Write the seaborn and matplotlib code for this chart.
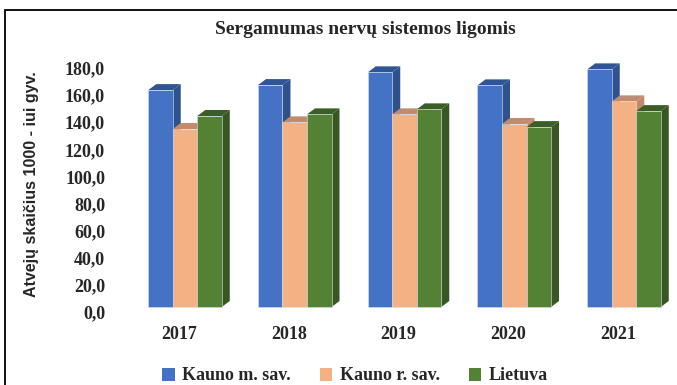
import numpy as np
import pandas as pd
import seaborn as sns
import matplotlib.pyplot as plt
from matplotlib.colors import to_rgb
from matplotlib.patches import Polygon, Rectangle
from matplotlib.transforms import ScaledTranslation

# --- data -------------------------------------------------------------
years = ['2017', '2018', '2019', '2020', '2021']
series = ['Kauno m. sav.', 'Kauno r. sav.', 'Lietuva']
kauno_m = [160.0, 163.7, 173.1, 163.5, 175.3]
kauno_r = [131.3, 136.2, 142.1, 135.0, 151.7]
lietuva = [140.9, 142.1, 145.8, 132.7, 144.5]
y_ticks = [0, 20, 40, 60, 80, 100, 120, 140, 160, 180]

title = 'Sergamumas nervų sistemos ligomis'
y_title = 'Atvejų skaičius 1000 - iui gyv.'

# --- styling ------------------------------------------------------------
front_colors = ['#4472C4', '#F4B183', '#548235']
side_colors = ['#2F528F', '#C08A6A', '#385723']
top_colors = ['#2F5597', '#C48B6B', '#3B5E26']

sns.set_style('white')
plt.rcParams['font.family'] = ['Liberation Serif', 'DejaVu Serif']

df = pd.DataFrame({
    'Metai': years * 3,
    'Regionas': np.repeat(series, len(years)),
    'Reikšmė': kauno_m + kauno_r + lietuva,
})

W, H = 677, 385
fig = plt.figure(figsize=(W / 100, H / 100), dpi=100)
fig.patch.set_facecolor('white')

x_lo, x_hi = -0.5, 4.4
px_per_cat = 109.75
ax_left = 185 - 0.5 * px_per_cat
ax_w = (x_hi - x_lo) * px_per_cat
ax_bottom = H - 307
ax_h = 244
ax = fig.add_axes([ax_left / W, ax_bottom / H, ax_w / W, ax_h / H])

sns.barplot(data=df, x='Metai', y='Reikšmė', hue='Regionas',
            hue_order=series, palette=front_colors, saturation=1,
            width=0.67, gap=0, errorbar=None, legend=False, ax=ax,
            edgecolor='#d8e2f0', linewidth=0.4)

ax.set_xlim(x_lo, x_hi)
ax.set_ylim(0, 180)

# depth of the pseudo-3D columns, in data units
dx = 8 / px_per_cat
dy = 6 / (ax_h / 180)

front_rgb = [tuple(round(c, 3) for c in to_rgb(c)) for c in front_colors]
bars = sorted(ax.patches, key=lambda p: p.get_x())

for i, p in enumerate(bars):
    idx = front_rgb.index(tuple(round(c, 3) for c in p.get_facecolor()[:3]))
    x0, w, h = p.get_x(), p.get_width(), p.get_height()
    x1 = x0 + w
    base_z = 2 + 3 * i
    side = Polygon([(x1, 0), (x1, h), (x1 + dx, h + dy), (x1 + dx, dy)],
                   closed=True, facecolor=side_colors[idx], edgecolor='none',
                   clip_on=False, zorder=base_z)
    top = Polygon([(x0, h), (x1, h), (x1 + dx, h + dy), (x0 + dx, h + dy)],
                  closed=True, facecolor=top_colors[idx], edgecolor='none',
                  clip_on=False, zorder=base_z + 1)
    ax.add_patch(side)
    ax.add_patch(top)
    p.set_zorder(base_z + 2)
    p.set_clip_on(False)

for s in ax.spines.values():
    s.set_visible(False)
ax.grid(False)
ax.set_xlabel('')
ax.set_ylabel('')

ax.set_yticks(y_ticks)
ax.set_yticklabels([f'{v:.1f}'.replace('.', ',') for v in y_ticks],
                   fontsize=13, fontweight='bold')
ax.tick_params(axis='y', length=0, pad=18)
ax.tick_params(axis='x', length=0, pad=14)
for lab in ax.get_xticklabels():
    lab.set_fontsize(13)
    lab.set_fontweight('bold')
    lab.set_transform(lab.get_transform() + ScaledTranslation(-6 / 100, 0, fig.dpi_scale_trans))
for lab in ax.get_yticklabels():
    lab.set_transform(lab.get_transform() + ScaledTranslation(0, -5 / 100, fig.dpi_scale_trans))

fig.text(365 / W, 1 - 30 / H, title, ha='center', va='center',
         fontsize=14, fontweight='bold')
fig.text(32 / W, 1 - 184 / H, y_title, ha='center', va='center',
         rotation=90, fontsize=11.5, fontweight='bold',
         family=['Liberation Sans', 'DejaVu Sans'])

handles = [Rectangle((0, 0), 1, 1, facecolor=c, edgecolor='none') for c in front_colors]
fig.legend(handles, series, loc='center', bbox_to_anchor=(355 / W, 1 - 376 / H),
           ncol=3, frameon=False, handlelength=0.7, handleheight=0.7,
           handletextpad=0.4, columnspacing=1.6,
           prop={'size': 13, 'weight': 'bold', 'family': 'Liberation Serif'})

# outer frame of the chart area
fig.add_artist(Rectangle((5 / W, -0.1), 1.2, 1 - 10 / H + 0.1,
                         transform=fig.transFigure, fill=False,
                         edgecolor='black', linewidth=1.3))

fig.savefig('out.png', dpi=100, facecolor='white')
